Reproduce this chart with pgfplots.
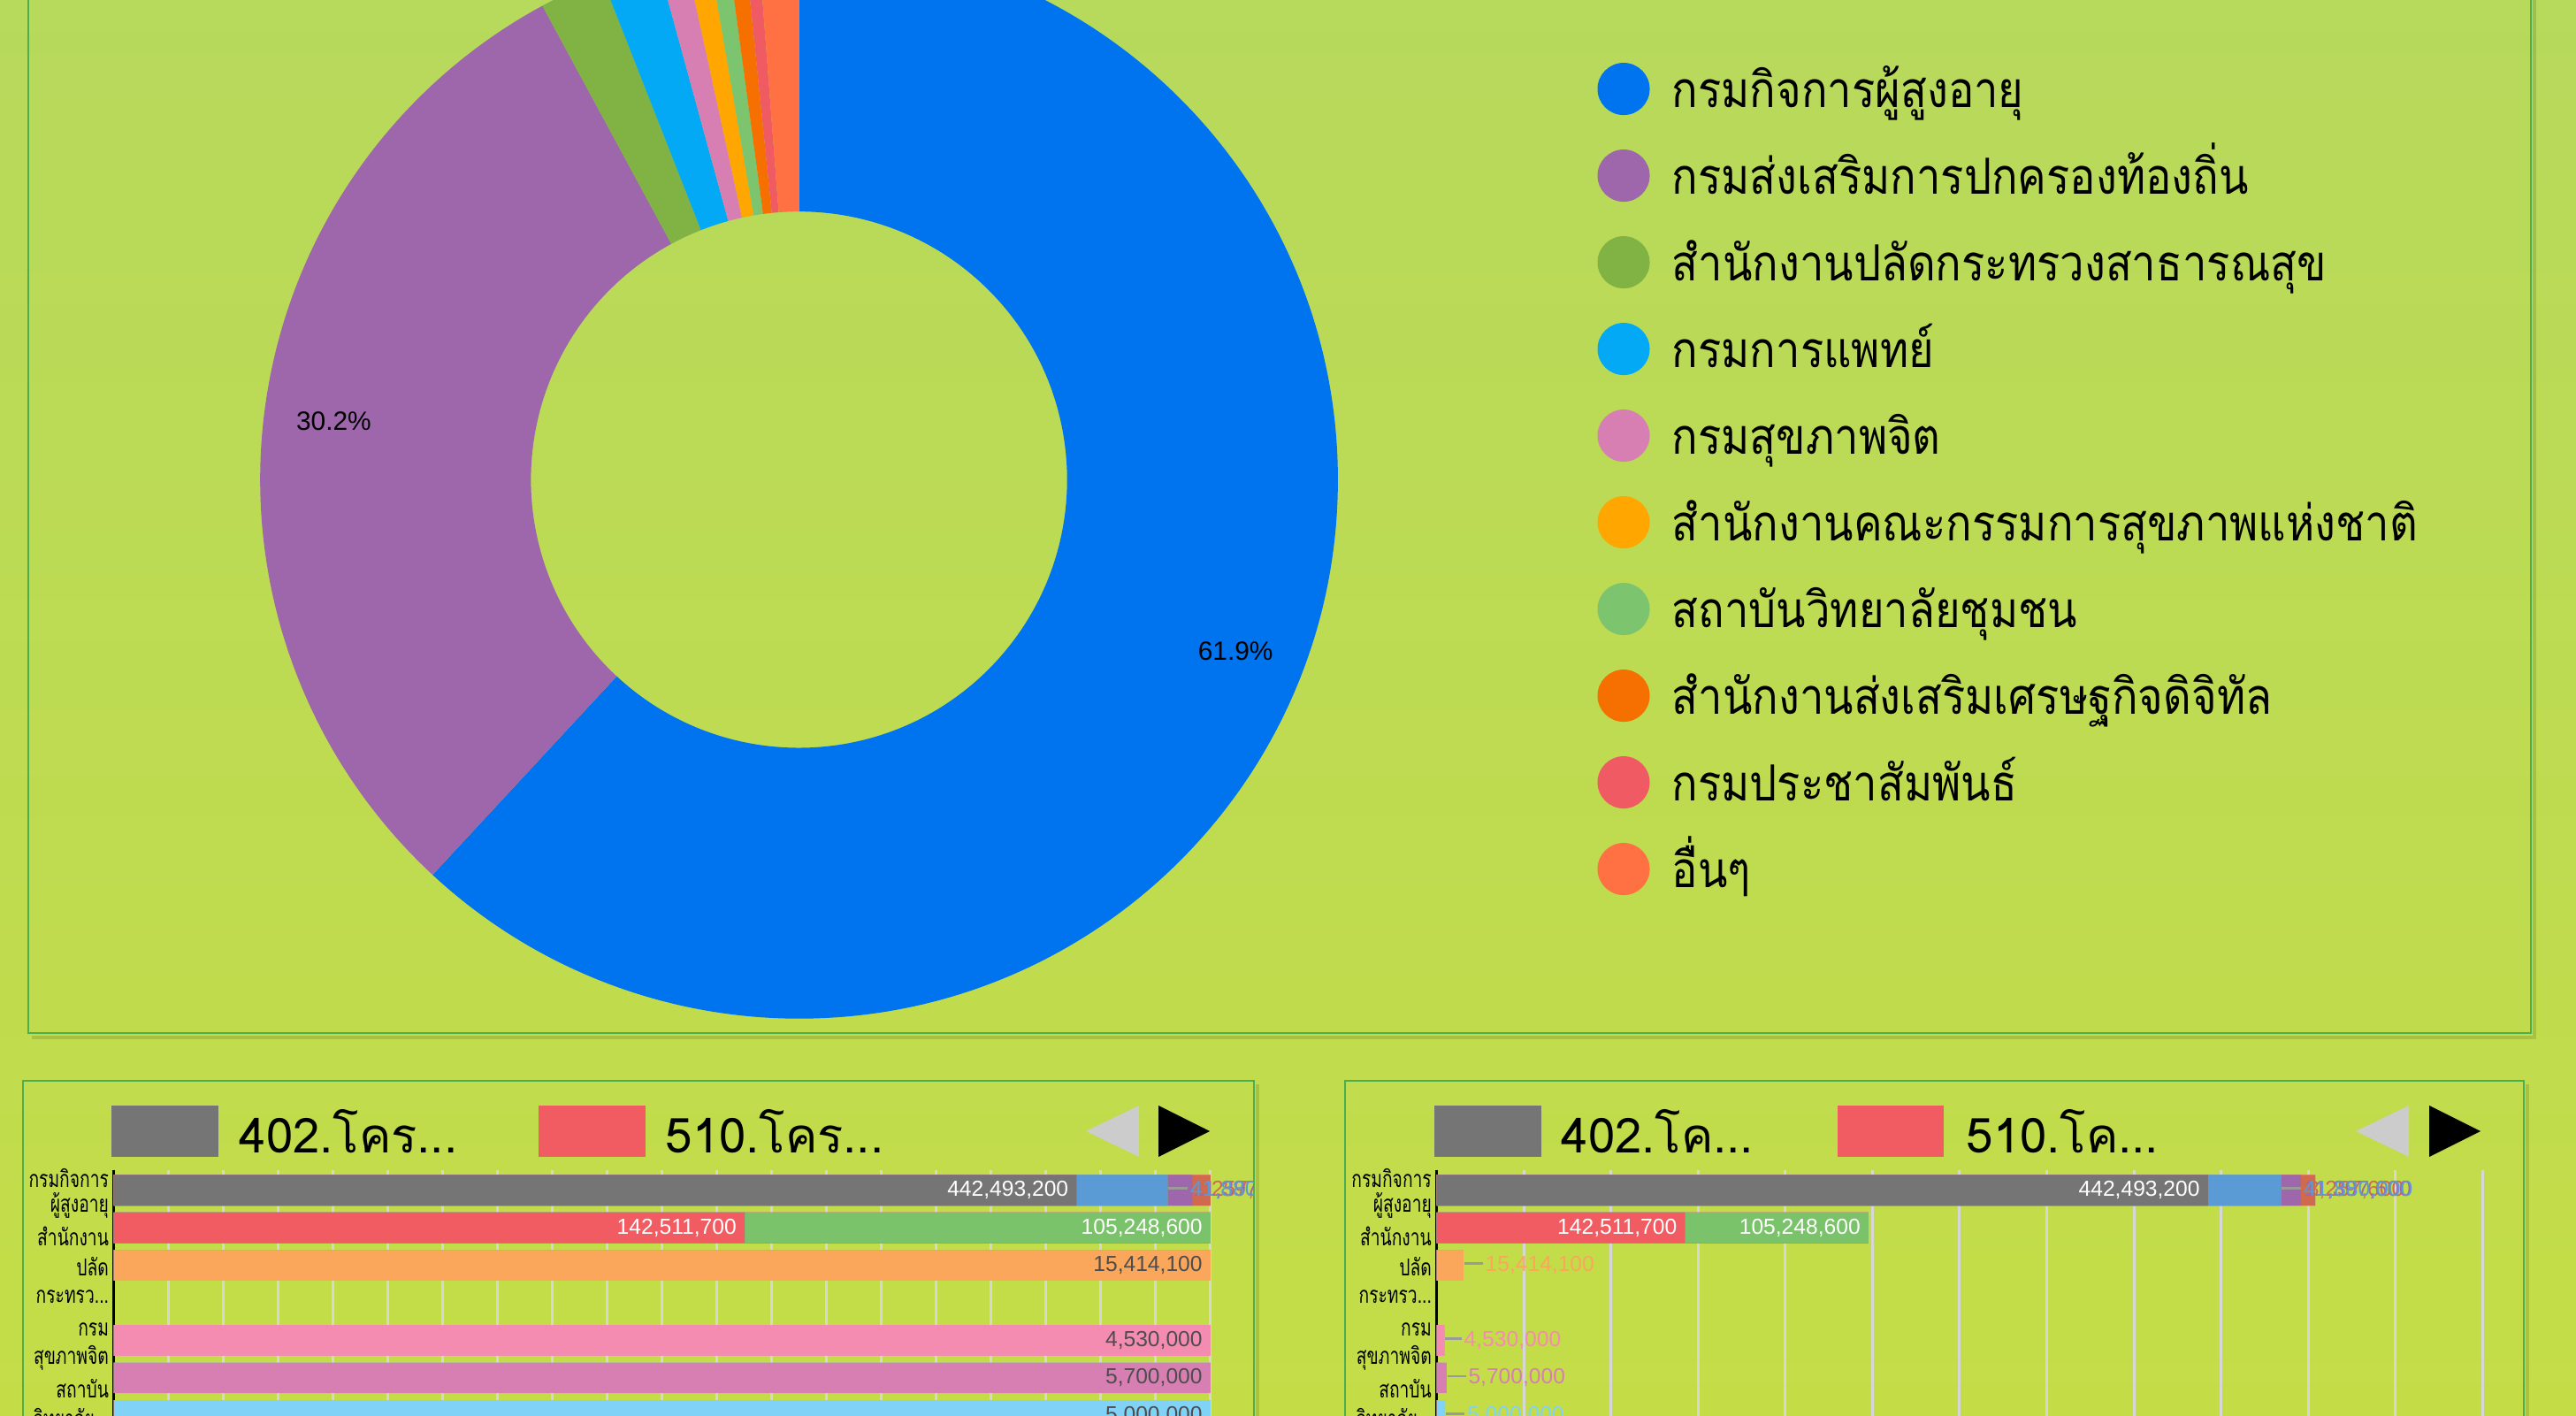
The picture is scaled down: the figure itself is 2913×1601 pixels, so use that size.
\documentclass[border=0pt]{standalone}
\usepackage{fontspec}
\setmainfont{Liberation Sans}
\newfontfamily\thai[Script=Thai]{Loma}
\newfontfamily\thailegend[Script=Thai, FakeStretch=0.87]{Loma}
\newfontfamily\thaicond[Script=Thai, FakeStretch=0.73]{Loma}
\usepackage{pgfplots}
\usepackage{pgfplotstable}
\pgfplotsset{compat=1.18}

\definecolor{bgtop}{HTML}{B7D95C}
\definecolor{bgbot}{HTML}{C4DD47}
\definecolor{panelline}{HTML}{4CAE4F}
\definecolor{donutblue}{HTML}{0073EE}
\definecolor{donutpurple}{HTML}{9E67AB}
\definecolor{donutgreen}{HTML}{80B343}
\definecolor{donutltblue}{HTML}{03A9F4}
\definecolor{donutpink}{HTML}{D77FB3}
\definecolor{donutorange}{HTML}{FFA600}
\definecolor{donutltgreen}{HTML}{7CC46D}
\definecolor{donutdkorange}{HTML}{F57000}
\definecolor{donutred}{HTML}{F05B63}
\definecolor{donutcoral}{HTML}{FF7043}
\definecolor{cgy}{HTML}{757575}
\definecolor{crd}{HTML}{F15B62}
\definecolor{cbl}{HTML}{5B9BD5}
\definecolor{cgn}{HTML}{7AC36A}
\definecolor{cpu}{HTML}{9E67AB}
\definecolor{cco}{HTML}{CF6A4F}
\definecolor{cor}{HTML}{FAA75B}
\definecolor{cpk}{HTML}{F48CB1}
\definecolor{cpp}{HTML}{D77FB3}
\definecolor{clb}{HTML}{80D3F7}
\definecolor{gridgray}{HTML}{D6D6D6}
\definecolor{leadergray}{HTML}{9A9A9A}
\definecolor{darklabel}{HTML}{4D4D4D}
\definecolor{arrowgray}{HTML}{CCCCCC}

\newcommand\legfont{\thailegend\fontsize{16pt}{19pt}\selectfont}
\newcommand\serfont{\thai\fontsize{15.5pt}{18pt}\selectfont}
\newcommand\tickfont{\thaicond\fontsize{7.5pt}{8.5pt}\selectfont}
\newcommand\barfont{\fontsize{7pt}{8pt}\selectfont}
\newcommand\pctfont{\fontsize{8.5pt}{10pt}\selectfont}
\newcommand\ddd{...}
\newcommand\ifmetaempty[2]{\if\relax\detokenize\expandafter{\pgfplotspointmeta}\relax#1\else#2\fi}

% donut: share in percent, clockwise from 12 o'clock
\pgfplotstableread{
share colour name
61.9 donutblue กรมกิจการผู้สูงอายุ
30.2 donutpurple กรมส่งเสริมการปกครองท้องถิ่น
1.94 donutgreen สำนักงานปลัดกระทรวงสาธารณสุข
1.71 donutltblue กรมการแพทย์
0.84 donutpink กรมสุขภาพจิต
0.70 donutorange สำนักงานคณะกรรมการสุขภาพแห่งชาติ
0.57 donutltgreen สถาบันวิทยาลัยชุมชน
0.52 donutdkorange สำนักงานส่งเสริมเศรษฐกิจดิจิทัล
0.41 donutred กรมประชาสัมพันธ์
1.21 donutcoral อื่นๆ
}\piedata

% budget bars (baht), one column per project, label columns beside
\pgfplotstableread{
y gy rd bl gn pu co or pk pp lb Lgy Lrd Lbl Lgn Lpu Lco Lor Lpk Lpp Llb
0 442493200 0 41880000 0 11397600 8257600 0 0 0 0 442,493,200 {} 41,880,000 {} 11,397,600 8,257,600 {} {} {} {}
1 0 142511700 0 105248600 0 0 0 0 0 0 {} 142,511,700 {} 105,248,600 {} {} {} {} {} {}
2 0 0 0 0 0 0 15414100 0 0 0 {} {} {} {} {} {} 15,414,100 {} {} {}
4 0 0 0 0 0 0 0 4530000 0 0 {} {} {} {} {} {} {} 4,530,000 {} {}
5 0 0 0 0 0 0 0 0 5700000 0 {} {} {} {} {} {} {} {} 5,700,000 {}
6 0 0 0 0 0 0 0 0 0 5000000 {} {} {} {} {} {} {} {} {} 5,000,000
}\budget
% running sums along a row: each segment is drawn as a bar up to its cumulative end
\newcommand\Sa{\thisrow{gy}}
\newcommand\Sb{\Sa+\thisrow{rd}}
\newcommand\Sc{\Sb+\thisrow{bl}}
\newcommand\Sd{\Sc+\thisrow{gn}}
\newcommand\Se{\Sd+\thisrow{pu}}
\newcommand\Sf{\Se+\thisrow{co}}
\newcommand\Sg{\Sf+\thisrow{or}}
\newcommand\Sh{\Sg+\thisrow{pk}}
\newcommand\Si{\Sh+\thisrow{pp}}
\newcommand\Sj{\Si+\thisrow{lb}}

\pgfplotsset{
  barchart/.style={
    xbar, bar width=3.45mm, bar shift=0pt, scale only axis, height=3.41cm,
    anchor=north west, y dir=reverse, ymin=-0.54, ymax=7.5,
    axis lines=left, axis line style={-}, x axis line style={draw=none},
    y axis line style={black, line width=0.25mm},
    xmajorgrids, major grid style={gridgray, line width=0.3mm},
    major tick length=0pt, xticklabels={},
    ytick={-0.33,0.40,1.23,2.03,2.83,3.70,4.46,5.28,6.06},
    yticklabels={กรมกิจการ,ผู้สูงอายุ,สำนักงาน,ปลัด,{กระทรว\ddd},กรม,สุขภาพจิต,สถาบัน,{วิทยาลัย\ddd}},
    yticklabel style={font=\tickfont, inner sep=0.5mm},
    clip=false,
    every axis plot/.append style={draw=none, bar shift=0pt},
  },
  inlab/.style={nodes near coords, point meta=explicit symbolic,
    every node near coord/.append style={anchor=east, xshift=-0.85mm, text=#1, font=\barfont, inner sep=0pt}},
  outlab/.style n args={3}{point meta=explicit symbolic,
    nodes near coords={\ifmetaempty{}{\textcolor{leadergray}{\rule[0.6ex]{#2}{0.25mm}}\hspace{0.3mm}\pgfplotspointmeta}},
    every node near coord/.append style={anchor=west, xshift=#3, text=#1, font=\barfont, inner sep=0pt}},
}

\begin{document}
\begin{tikzpicture}[x=0.01cm, y=0.01cm]
\useasboundingbox (0,0) rectangle (2913,1601);
\clip (0,0) rectangle (2913,1601);
\shade[top color=bgtop, bottom color=bgbot] (0,0) rectangle (2913,1601);

% panels
\draw[black, opacity=0.12, line width=0.4mm] (36,428) -- (2866,428) -- (2866,1601);
\draw[panelline, line width=0.25mm] (32,433) rectangle (2862,1620);
\draw[black, opacity=0.12, line width=0.4mm] (1422,375) -- (1422,0);
\draw[panelline, line width=0.25mm] (26,379) rectangle (1418,-20);
\draw[black, opacity=0.12, line width=0.4mm] (2858,375) -- (2858,0);
\draw[panelline, line width=0.25mm] (1521,379) rectangle (2854,-20);

% donut
\begin{axis}[hide axis, x=1cm, y=1cm, xmin=-7, xmax=7, ymin=-7, ymax=7,
  at={(903,1058)}, anchor=origin, clip=false]
\xdef\angA{90}
\pgfplotsforeachungrouped \i in {0,...,9}{%
  \pgfplotstablegetelem{\i}{share}\of\piedata
  \let\sliceval=\pgfplotsretval
  \pgfplotstablegetelem{\i}{colour}\of\piedata
  \let\slicecol=\pgfplotsretval
  \pgfmathsetmacro\angB{\angA-3.6*\sliceval}
  \pgfmathsetmacro\angM{(\angA+\angB)/2}
  \edef\temp{\noexpand\fill[\slicecol] (axis cs:0,0) ++(\angA:6.09cm)
     arc[start angle=\angA, end angle=\angB, radius=6.09cm]
     -- ++(\angB+180:3.06cm)
     arc[start angle=\angB, end angle=\angA, radius=3.03cm] -- cycle;}%
  \temp
  \ifdim\sliceval pt>5pt
    \edef\temp{\noexpand\path (axis cs:0,0) ++(\angM:5.3cm) node[font=\noexpand\pctfont] {\sliceval\noexpand\%};}%
    \temp
  \fi
  \xdef\angA{\angB}%
}
\end{axis}

% donut legend
\pgfplotsforeachungrouped \i in {0,...,9}{%
  \pgfplotstablegetelem{\i}{colour}\of\piedata
  \let\slicecol=\pgfplotsretval
  \pgfplotstablegetelem{\i}{name}\of\piedata
  \let\slicename=\pgfplotsretval
  \pgfmathsetmacro\yc{1500.4-98*\i}
  \fill[\slicecol] (1836,\yc) circle[radius=2.95mm];
  \node[anchor=base west, font=\legfont, inner sep=0pt] at (1890,\yc-21) {\slicename};
}

% left bar panel: legend and arrows
\fill[cgy] (126,293) rectangle (247,351);
\node[anchor=west, font=\serfont, inner sep=0pt] at (270,322) {402.โคร\ddd};
\fill[crd] (609,293) rectangle (730,351);
\node[anchor=west, font=\serfont, inner sep=0pt] at (752,322) {510.โคร\ddd};
\fill[arrowgray] (1288,351) -- (1288,293) -- (1228,322) -- cycle;
\fill[black] (1310,351) -- (1310,293) -- (1368,322) -- cycle;

% right bar panel: legend and arrows
\fill[cgy] (1622,293) rectangle (1743,351);
\node[anchor=west, font=\serfont, inner sep=0pt] at (1765,322) {402.โค\ddd};
\fill[crd] (2078,293) rectangle (2198,351);
\node[anchor=west, font=\serfont, inner sep=0pt] at (2223,322) {510.โค\ddd};
\fill[arrowgray] (2724,351) -- (2724,293) -- (2664,322) -- cycle;
\fill[black] (2747,351) -- (2747,293) -- (2805,322) -- cycle;

% left bar chart: share of each row's total (percent)
\begin{scope}[x=1cm, y=1cm]
\clip (0.26,0) rectangle (14.17,3.79);
\begin{axis}[barchart, at={(1.286cm,2.78cm)}, width=12.394cm, xmin=0, xmax=100, xtick={0,5,...,100}]
\addplot[fill=clb, inlab=darklabel] table[x expr=(\Sj)/(\Sj)*100, y=y, meta=Llb]{\budget};
\addplot[fill=cpp, inlab=darklabel] table[x expr=(\Si)/(\Sj)*100, y=y, meta=Lpp]{\budget};
\addplot[fill=cpk, inlab=darklabel] table[x expr=(\Sh)/(\Sj)*100, y=y, meta=Lpk]{\budget};
\addplot[fill=cor, inlab=darklabel] table[x expr=(\Sg)/(\Sj)*100, y=y, meta=Lor]{\budget};
\addplot[fill=cco, outlab={cco}{0mm}{-2.3mm}] table[x expr=(\Sf)/(\Sj)*100, y=y, meta=Lco]{\budget};
\addplot[fill=cpu, outlab={cpu}{0mm}{-0.3mm}] table[x expr=(\Se)/(\Sj)*100, y=y, meta=Lpu]{\budget};
\addplot[fill=cgn, inlab=white] table[x expr=(\Sd)/(\Sj)*100, y=y, meta=Lgn]{\budget};
\addplot[fill=cbl, outlab={cbl}{2.2mm}{0mm}] table[x expr=(\Sc)/(\Sj)*100, y=y, meta=Lbl]{\budget};
\addplot[fill=crd, inlab=white] table[x expr=(\Sb)/(\Sj)*100, y=y, meta=Lrd]{\budget};
\addplot[fill=cgy, inlab=white] table[x expr=(\Sa)/(\Sj)*100, y=y, meta=Lgy]{\budget};
\end{axis}
\end{scope}

% right bar chart: amounts in baht
\begin{scope}[x=1cm, y=1cm]
\clip (15.21,0) rectangle (28.53,3.79);
\begin{axis}[barchart, at={(16.236cm,2.78cm)}, width=11.82cm, xmin=0, xmax=600000000,
  xtick={0,5e7,1e8,1.5e8,2e8,2.5e8,3e8,3.5e8,4e8,4.5e8,5e8,5.5e8,6e8}]
\addplot[fill=clb, outlab={clb}{2.1mm}{0mm}] table[x expr=\Sj, y=y, meta=Llb]{\budget};
\addplot[fill=cpp, outlab={cpp}{2.1mm}{0mm}] table[x expr=\Si, y=y, meta=Lpp]{\budget};
\addplot[fill=cpk, outlab={cpk}{1.85mm}{0mm}] table[x expr=\Sh, y=y, meta=Lpk]{\budget};
\addplot[fill=cor, outlab={cor}{2.1mm}{0mm}] table[x expr=\Sg, y=y, meta=Lor]{\budget};
\addplot[fill=cco, outlab={cco}{0mm}{-1.3mm}] table[x expr=\Sf, y=y, meta=Lco]{\budget};
\addplot[fill=cpu, outlab={cpu}{0mm}{0mm}] table[x expr=\Se, y=y, meta=Lpu]{\budget};
\addplot[fill=cgn, inlab=white] table[x expr=\Sd, y=y, meta=Lgn]{\budget};
\addplot[fill=cbl, outlab={cbl}{2.2mm}{0mm}] table[x expr=\Sc, y=y, meta=Lbl]{\budget};
\addplot[fill=crd, inlab=white] table[x expr=\Sb, y=y, meta=Lrd]{\budget};
\addplot[fill=cgy, inlab=white] table[x expr=\Sa, y=y, meta=Lgy]{\budget};
\end{axis}
\end{scope}
\end{tikzpicture}
\end{document}
